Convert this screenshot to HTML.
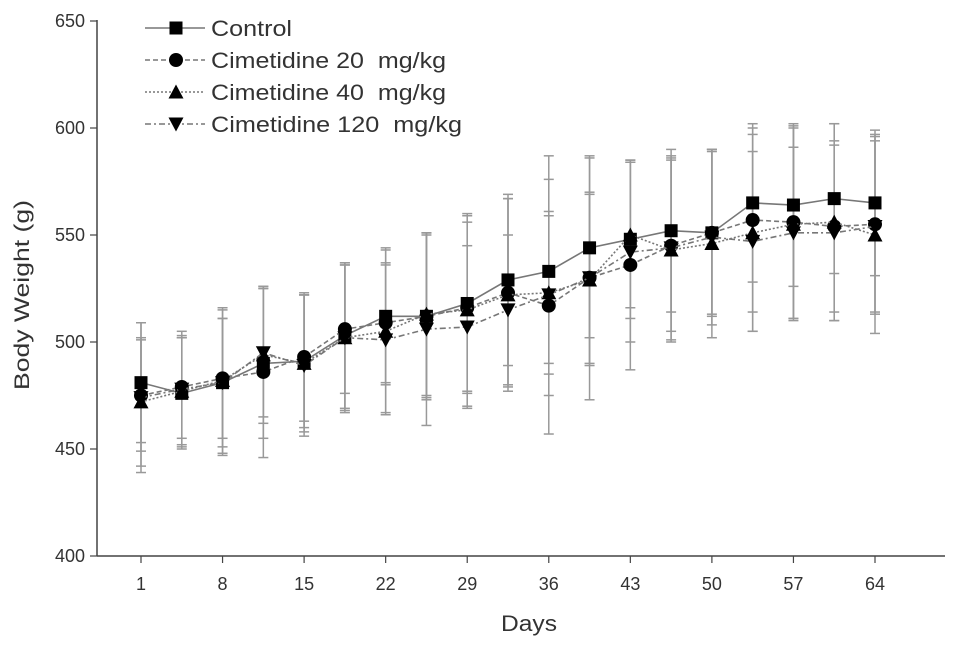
<!DOCTYPE html>
<html><head><meta charset="utf-8"><style>
body{margin:0;background:#fff}
svg{display:block;font-family:"Liberation Sans",Arial,sans-serif}
</style></head><body>
<svg id="chart" width="969" height="648" viewBox="0 0 969 648"></svg>
<script>
const days=[1,4.5,8,11.5,15,18.5,22,25.5,29,32.5,36,39.5,43,46.5,50,53.5,57,60.5,64];
const xTicks=[1,8,15,22,29,36,43,50,57,64];
const yTicks=[400,450,500,550,600,650];
const seriesNames=["Control","Cimetidine 20  mg/kg","Cimetidine 40  mg/kg","Cimetidine 120  mg/kg"];
const control=[481,476,481,490,491,503,512,512,518,529,533,544,548,552,551,565,564,567,565];
const cim20=[475,479,483,486,493,506,509,512,516,523,517,530,536,545,551,557,556,554,555];
const cim40=[472,477,482,494,490,502,505,513,515,522,523,529,550,543,546,551,555,556,550];
const cim120=[474,478,481,495,489,502,501,506,507,515,522,530,542,544,549,547,551,551,554];
const sdControl=[28,26,34,35,31,34,32,38,41,40,43,42,37,38,38,37,38,35,34];
const sd20=[26,24,28,40,30,30,28,39,40,44,42,40,49,40,39,43,45,40,42];
const sd40=[30,25,34,32,32,34,38,38,45,45,38,40,34,43,44,46,45,46,46];
const sd120=[35,27,30,30,33,35,35,45,38,35,65,57,42,43,41,42,40,41,40];
const allVals=[control,cim20,cim40,cim120];
const allSd=[sdControl,sd20,sd40,sd120];
const dashes=["","5,3","2,2","6,3,2,3"];
const markers=["square","circle","up","down"];
const legendLen=[81,235,235,251];
const X=d=>141+(d-1)*(875-141)/63;
const Y=v=>556-(v-400)*(556-21)/250;
const svg=document.getElementById('chart');
const NS="http://www.w3.org/2000/svg";
function mk(t,a,p){const e=document.createElementNS(NS,t);for(const k in a)e.setAttribute(k,a[k]);(p||svg).appendChild(e);return e;}
let ax=mk('line',{x1:97,y1:556,x2:945,y2:556,stroke:'#444','stroke-width':1.5});


let ay=mk('line',{x1:97,y1:20,x2:97,y2:556,stroke:'#444','stroke-width':1.5});


xTicks.forEach(t=>{
  mk('line',{x1:X(t),y1:556,x2:X(t),y2:563,stroke:'#444','stroke-width':1.2});
  const tx=mk('text',{x:X(t),y:590,'text-anchor':'middle','font-size':18,fill:'#333'});
  tx.textContent=t;
  
  
});
yTicks.forEach(t=>{
  mk('line',{x1:90,y1:Y(t),x2:97,y2:Y(t),stroke:'#444','stroke-width':1.2});
  const tx=mk('text',{x:85,y:Y(t)+6,'text-anchor':'end','font-size':18,fill:'#333'});
  tx.textContent=t;
  
  
});
let xl=mk('text',{x:501,y:631,'font-size':22,fill:'#333',textLength:56,lengthAdjust:'spacingAndGlyphs'});
xl.textContent='Days';


let yl=mk('text',{x:29,y:390,'font-size':21,fill:'#333',textLength:190,lengthAdjust:'spacingAndGlyphs',transform:'rotate(-90 29 390)'});
yl.textContent='Body Weight (g)';


function marker(type,x,y,g){
  const s=6.5;
  if(type==='square')return mk('rect',{x:x-s,y:y-s,width:2*s,height:2*s,fill:'#000'},g);
  if(type==='circle')return mk('circle',{cx:x,cy:y,r:s+0.5,fill:'#000'},g);
  if(type==='up')return mk('polygon',{points:`${x},${y-s-1} ${x-s-1},${y+s} ${x+s+1},${y+s}`,fill:'#000'},g);
  return mk('polygon',{points:`${x},${y+s+1} ${x-s-1},${y-s} ${x+s+1},${y-s}`,fill:'#000'},g);
}
allVals.forEach((vals,si)=>{
  const g=mk('g',{});
  
  
  vals.forEach((v,i)=>{
    const x=X(days[i]),sd=allSd[si][i];
    mk('line',{x1:x,y1:Y(v+sd),x2:x,y2:Y(v-sd),stroke:'#999','stroke-width':1.5},g);
    mk('line',{x1:x-5,y1:Y(v+sd),x2:x+5,y2:Y(v+sd),stroke:'#999','stroke-width':1.5},g);
    mk('line',{x1:x-5,y1:Y(v-sd),x2:x+5,y2:Y(v-sd),stroke:'#999','stroke-width':1.5},g);
  });
});
allVals.forEach((vals,si)=>{
  const g=mk('g',{});
  
  
  mk('polyline',{points:vals.map((v,i)=>X(days[i])+','+Y(v)).join(' '),fill:'none',stroke:'#777','stroke-width':1.6,'stroke-dasharray':dashes[si]},g);
  vals.forEach((v,i)=>{const m=marker(markers[si],X(days[i]),Y(v),g);
    
    });
});
seriesNames.forEach((n,i)=>{
  const g=mk('g',{});
  
  
  const y=28+i*32;
  mk('line',{x1:145,y1:y,x2:205,y2:y,stroke:'#777','stroke-width':1.6,'stroke-dasharray':dashes[i]},g);
  marker(markers[i],176,y,g);
  const t=mk('text',{x:211,y:y+8,'font-size':22,fill:'#333',textLength:legendLen[i],lengthAdjust:'spacingAndGlyphs'},g);
  t.textContent=n;
  t.style.whiteSpace='pre';
});
</script>
</body></html>
